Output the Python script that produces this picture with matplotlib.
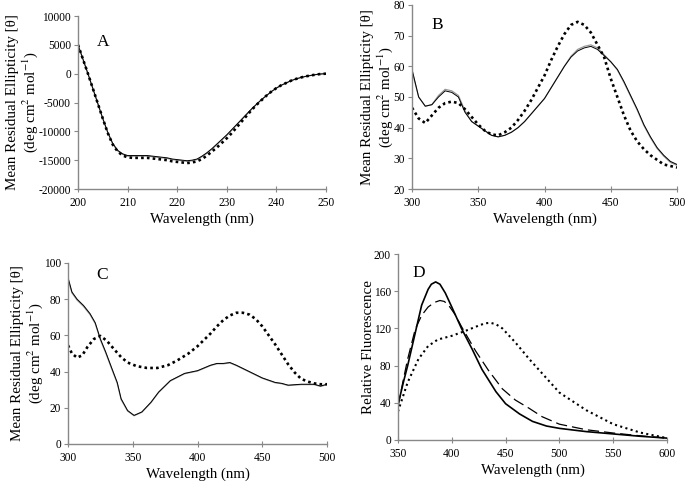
import matplotlib
matplotlib.use('Agg')
import matplotlib.pyplot as plt

plt.rcParams['font.family'] = ['Liberation Serif', 'DejaVu Serif']
plt.rcParams['mathtext.fontset'] = 'stix'
plt.rcParams['axes.unicode_minus'] = False

# Panel A: far-UV CD, 200-250 nm
wl_a = list(range(200, 251))
a_dot = [5000, 2500, 0, -2600, -5200, -7800, -10300, -12300, -13500, -14200,
         -14500, -14600, -14600, -14600, -14600, -14700, -14800, -14900, -15000, -15200,
         -15300, -15400, -15500, -15400, -15200, -14800, -14200, -13500, -12800, -12000,
         -11200, -10300, -9300, -8300, -7300, -6300, -5400, -4600, -3800, -3100,
         -2500, -2000, -1600, -1200, -900, -650, -450, -300, -150, -50, 0]
a_sol1 = [5000, 2500, 0, -2600, -5200, -7800, -10200, -12100, -13300, -13900,
          -14200, -14200, -14200, -14200, -14200, -14300, -14400, -14500, -14600, -14800,
          -14900, -15000, -15100, -15000, -14800, -14300, -13700, -13000, -12200, -11400,
          -10600, -9700, -8800, -7900, -7000, -6100, -5300, -4500, -3800, -3100,
          -2500, -2000, -1600, -1200, -900, -650, -450, -300, -150, -50, 0]
a_sol2 = [5000, 2500, 0, -2600, -5200, -7800, -10200, -12200, -13400, -14000,
          -14300, -14300, -14300, -14300, -14300, -14400, -14500, -14600, -14700, -14900,
          -15000, -15100, -15200, -15100, -14900, -14400, -13800, -13100, -12300, -11500,
          -10700, -9800, -8900, -8000, -7100, -6200, -5300, -4500, -3800, -3100,
          -2500, -2000, -1600, -1200, -900, -650, -450, -300, -150, -50, 0]

# Panel B: near-UV/visible CD, 300-500 nm
wl_b = list(range(300, 501, 5))
b_sol1 = [59, 50, 47, 47.5, 50, 52, 51.5, 50, 45, 42, 40.5, 39, 37.5, 37, 37.5, 38.5, 40,
          42, 44.5, 47, 49.5, 53, 56.5, 60, 63, 65, 66, 66.5, 65.5, 63.5, 61.5, 59, 55,
          50.5, 46, 41, 37, 33.5, 31, 29, 28]
b_sol2 = [58.5, 50, 47, 47.5, 50.5, 52.5, 52, 50.5, 45.5, 42, 40.5, 39, 37.5, 37, 37.5, 38.5, 40,
          42, 44.5, 47, 49.5, 53, 56.5, 60, 63.3, 65.5, 66.5, 67, 66, 63.8, 61.5, 58.8, 54.7,
          50.2, 45.7, 40.7, 36.7, 33.2, 30.7, 28.7, 27.7]
b_dot = [46.5, 43, 41.5, 44, 46.5, 48, 48.5, 48, 46, 43.5, 41, 39, 37.8, 37.5, 38.5, 40, 42.5,
         45.5, 49, 53, 57, 62, 66.5, 70.5, 73.5, 74.5, 73.5, 71, 67, 63, 56, 50, 44,
         39, 35.5, 33, 31, 29.5, 28, 27.5, 27]

# Panel C: CD, 300-500 nm
wl_c_sol = [300, 303, 307, 312, 317, 321, 325, 329, 334, 338, 341, 346, 351, 357, 364,
            370, 379, 390, 400, 405, 410, 415, 420, 425, 430, 440, 450, 460, 465, 470,
            480, 490, 495, 500]
c_sol1 = [92, 84, 80, 76.5, 72, 67, 58, 51, 41.5, 34, 25, 18.5, 15.8, 17.7, 23,
          28.7, 35, 39, 40.5, 42, 43.5, 44.5, 44.5, 45, 43.5, 40, 36.5, 34, 33.5, 32.5,
          33, 33, 32, 33]
c_sol2 = [91, 83.5, 79.5, 76, 71.5, 66.5, 57.5, 50.5, 41, 33.5, 24.5, 18.2, 15.6, 17.5, 22.8,
          28.5, 34.8, 38.8, 40.3, 41.8, 43.3, 44.3, 44.3, 44.8, 43.3, 39.8, 36.3, 33.8, 33.3, 32.3,
          32.8, 32.8, 31.8, 32.8]
wl_c_dot = [300, 303, 307, 311, 315, 320, 325, 330, 336, 341, 346, 353, 361, 369, 377,
            384, 393, 400, 405, 410, 415, 420, 425, 430, 435, 440, 445, 450, 455, 460,
            465, 470, 475, 480, 485, 490, 495, 500]
c_dot = [54.5, 50, 47.7, 49, 53.6, 58, 59.7, 57, 52, 48, 45, 43, 42, 42, 43.5,
         46, 50, 54, 57.5, 61, 65, 68.5, 71, 72.5, 72.5, 71.5, 69, 65, 60, 55,
         49.5, 44, 39.5, 36, 34.5, 33.5, 33, 33]

# Panel D: fluorescence emission, 350-600 nm
wl_d_sol = [350, 355, 359, 366, 372, 378, 381, 385, 389, 394, 400, 409, 419, 428, 441,
            450, 463, 475, 488, 500, 525, 550, 575, 600]
d_sol = [37.7, 62, 80, 115, 145, 162, 167.5, 170, 167.5, 158, 143, 120, 97.5, 76, 52,
         39, 28, 20, 15, 12.5, 9, 6.5, 4, 2]
wl_d_dash = [350, 355, 359, 366, 372, 378, 384, 389, 393, 397, 403, 409, 422, 434, 447,
             459, 472, 484, 500, 525, 550, 575, 600]
d_dash = [36, 65, 87, 119, 134, 143, 148, 150, 149, 145, 135, 122, 96, 75, 55,
          43, 34, 25, 17, 11, 7.5, 4.5, 2]
wl_d_dot = [350, 359, 369, 378, 387, 400, 412, 425, 431, 436, 441, 447, 459, 472, 486,
            500, 525, 550, 575, 600]
d_dot = [30.6, 62, 87, 101, 108, 112, 117, 123, 125.5, 126, 124.5, 120, 105, 87, 69,
         51, 32, 17, 8, 2]

cd_label = 'Mean Residual Ellipticity [θ]\n(deg cm$^{2}$ mol$^{-1}$)'
gray = '#888888'


def style(ax, xlim, ylim, xticks, yticks, ylabel):
    ax.set_xlim(*xlim)
    ax.set_ylim(*ylim)
    ax.set_xticks(xticks)
    ax.set_yticks(yticks)
    for s in ['top', 'right']:
        ax.spines[s].set_visible(False)
    for s in ['left', 'bottom']:
        ax.spines[s].set_color(gray)
        ax.spines[s].set_linewidth(1.0)
    ax.tick_params(axis='y', direction='out', length=3, color=gray, labelsize=8.3, pad=2)
    ax.tick_params(axis='x', direction='inout', length=4, color=gray, labelsize=8.3, pad=4)
    ax.set_xlabel('Wavelength (nm)', fontsize=10.8, labelpad=2)
    ax.set_ylabel(ylabel, fontsize=10.8, linespacing=1.1, labelpad=-1)


fig = plt.figure(figsize=(6.85, 4.88), dpi=100)
ax_a = fig.add_axes([0.1139, 0.6127, 0.3620, 0.3545])
ax_b = fig.add_axes([0.6015, 0.6127, 0.3868, 0.3771])
ax_c = fig.add_axes([0.0993, 0.0902, 0.3781, 0.3709])
ax_d = fig.add_axes([0.5810, 0.0984, 0.3927, 0.3811])

dots = (0, (1, 1.2))

ax_a.plot(wl_a, a_sol2, color='#999999', lw=0.9)
ax_a.plot(wl_a, a_sol1, color='black', lw=0.7)
ax_a.plot(wl_a, a_dot, color='black', lw=1.9, linestyle=dots)
style(ax_a, (200, 250), (-20000, 10000), range(200, 251, 10), range(-20000, 10001, 5000), cd_label)
ax_a.text(205, 5500, 'A', fontsize=12.5, ha='center', va='center')

ax_b.plot(wl_b, b_sol2, color='#999999', lw=0.9)
ax_b.plot(wl_b, b_sol1, color='black', lw=0.7)
ax_b.plot(wl_b, b_dot, color='black', lw=1.9, linestyle=dots)
style(ax_b, (300, 500), (20, 80), range(300, 501, 50), range(20, 81, 10), cd_label)
ax_b.text(319, 73.5, 'B', fontsize=12.5, ha='center', va='center')

ax_c.plot(wl_c_sol, c_sol2, color='#999999', lw=0.9)
ax_c.plot(wl_c_sol, c_sol1, color='black', lw=0.7)
ax_c.plot(wl_c_dot, c_dot, color='black', lw=1.9, linestyle=dots)
style(ax_c, (300, 500), (0, 100), range(300, 501, 50), range(0, 101, 20), cd_label)
ax_c.text(326, 93.4, 'C', fontsize=12.5, ha='center', va='center')

ax_d.plot(wl_d_sol, d_sol, color='black', lw=1.2)
ax_d.plot(wl_d_dash, d_dash, color='black', lw=0.9, linestyle=(0, (9, 4)))
ax_d.plot(wl_d_dot, d_dot, color='black', lw=1.5, linestyle=(0, (1, 1.6)))
style(ax_d, (350, 600), (0, 200), range(350, 601, 50), range(0, 201, 40), 'Relative Fluorescence')
ax_d.text(369.5, 179.6, 'D', fontsize=12.5, ha='center', va='center')

fig.savefig('out.png', dpi=100)
